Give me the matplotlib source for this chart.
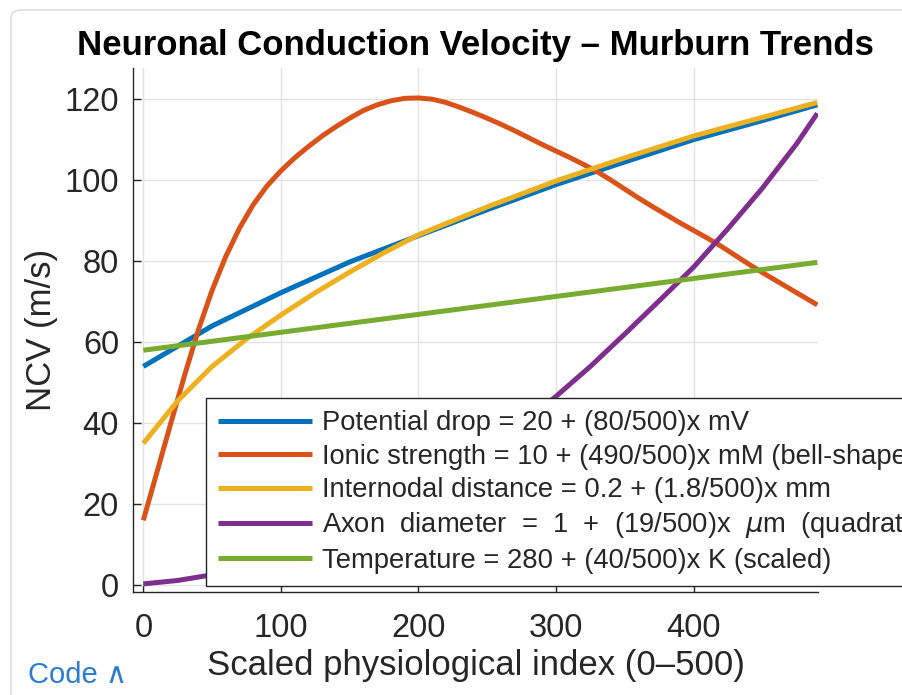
import matplotlib
matplotlib.use("Agg")
import matplotlib.pyplot as plt
from matplotlib.patches import FancyBboxPatch

plt.rcParams['font.family'] = ['Liberation Sans', 'DejaVu Sans']
plt.rcParams['mathtext.fontset'] = 'dejavusans'

# values
x_pot = [0, 25, 50, 100, 150, 200, 250, 300, 350, 400, 450, 490]
potential = [54, 59, 64, 72.2, 79.8, 86.3, 92.7, 98.9, 104.5, 110, 114.7, 118.6]

x_ion = [0, 10, 20, 30, 40, 50, 60, 70, 80, 90, 100, 110, 120, 130, 140, 150,
         160, 170, 180, 190, 200, 210, 220, 230, 240, 250, 260, 270, 280, 290,
         300, 310, 320, 330, 340, 350, 360, 370, 380, 390, 400, 410, 420, 430,
         440, 450, 460, 470, 480, 490]
ionic = [16, 28, 40, 51.8, 63, 72.8, 81.2, 88.2, 94, 98.6, 102.3, 105.5, 108.3,
         110.9, 113.2, 115.3, 117.2, 118.6, 119.6, 120.2, 120.3, 120, 119.2, 118,
         116.7, 115.3, 113.8, 112.2, 110.5, 108.8, 107.2, 105.6, 103.9, 102.1, 100,
         97.8, 95.6, 93.5, 91.5, 89.5, 87.6, 85.7, 83.7, 81.5, 79.3, 77.2, 75.2,
         73.2, 71.2, 69.2]

x_int = [0, 25, 50, 75, 100, 125, 150, 175, 200, 250, 300, 350, 400, 450, 490]
internodal = [35, 45.5, 54, 60.8, 66.7, 72.2, 77.3, 82.1, 86.5, 93.4, 99.8,
              105.5, 110.9, 115.5, 119.2]

x_axon = [0, 25, 50, 75, 100, 125, 150, 175, 200, 225, 250, 275, 300, 325, 350,
          375, 400, 425, 450, 475, 490]
axon = [0.3, 1.15, 2.55, 4.5, 7.0, 10.0, 13.6, 17.7, 22.4, 27.6, 33.4, 39.7,
        46.6, 54, 62, 70.2, 78.5, 88, 98, 109, 116.5]

x_temp = [0, 490]
temperature = [58, 79.7]

labels = ['Potential drop = 20 + (80/500)x mV',
          'Ionic strength = 10 + (490/500)x mM (bell-shaped)',
          'Internodal distance = 0.2 + (1.8/500)x mm',
          r'Axon  diameter  =  1  +  (19/500)x  $\mu$m  (quadratic)',
          'Temperature = 280 + (40/500)x K (scaled)']
colors = ['#0072BD', '#D95319', '#EDB120', '#7E2F8E', '#77AC30']

fig = plt.figure(figsize=(9.02, 6.95), dpi=100)

# page card outline
card = FancyBboxPatch((11/902, -0.1), 1.2, (695-10)/695 + 0.1,
                      boxstyle="round,pad=0,rounding_size=0.012",
                      transform=fig.transFigure, fc='white', ec='#d9d9d9', lw=1,
                      zorder=-10)
fig.patches.append(card)

ax = fig.add_axes([133/902, 103/695, (818-133)/902, (592-68)/695])
ax.patch.set_alpha(0)

series = [(x_pot, potential), (x_ion, ionic), (x_int, internodal),
          (x_axon, axon), (x_temp, temperature)]
for (xs, ys), c, lab in zip(series, colors, labels):
    ax.plot(xs, ys, color=c, lw=3.6, label=lab, solid_capstyle='butt')

ax.set_xlim(-7.5, 490.5)
ax.set_ylim(-1.7, 127.7)
ax.set_xticks([0, 100, 200, 300, 400])
ax.set_yticks([0, 20, 40, 60, 80, 100, 120])
ax.grid(True, color='#e3e3e3', lw=1)
ax.set_axisbelow(True)
for s in ['top', 'right']:
    ax.spines[s].set_visible(False)
for s in ['left', 'bottom']:
    ax.spines[s].set_color('#262626')
    ax.spines[s].set_linewidth(1)
ax.tick_params(direction='in', length=6, width=1, colors='#262626',
               labelsize=23.5)
ax.tick_params(axis='x', pad=15)
ax.tick_params(axis='y', pad=10)

ax.set_title('Neuronal Conduction Velocity – Murburn Trends',
             fontsize=25, fontweight='bold', color='black', pad=9)
ax.set_xlabel('Scaled physiological index (0–500)', fontsize=25,
              color='#262626', labelpad=4)
ax.set_ylabel('NCV (m/s)', fontsize=25, color='#262626', labelpad=5)

leg = ax.legend(loc='upper left', bbox_to_anchor=(206/902, 1-398/695),
                bbox_transform=fig.transFigure, fontsize=19.7, frameon=True,
                fancybox=False, framealpha=1, edgecolor='#262626',
                handlelength=3.43, handletextpad=0.36, borderaxespad=0,
                borderpad=0.45, labelspacing=0.27)
leg.get_frame().set_linewidth(1)
for t in leg.get_texts():
    t.set_color('#262626')

fig.text(28/902, 1-675/695, 'Code ∧', fontsize=21, color='#2a7bd5',
         va='center', ha='left')

fig.savefig('out.png', dpi=100)
